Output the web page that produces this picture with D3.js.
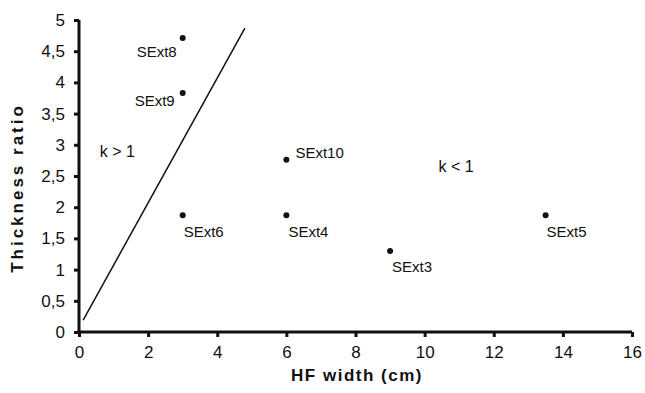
<!DOCTYPE html>
<html><head><meta charset="utf-8">
<script src="https://cdn.jsdelivr.net/npm/d3@7"></script>
<style>
body{margin:0;background:#fff;}
text{font-family:"Liberation Sans",Arial,sans-serif;fill:#111;}
</style></head>
<body><svg id="c" width="645" height="393"></svg>
<script>
const names = ["SExt8","SExt9","SExt10","SExt6","SExt4","SExt3","SExt5"];
const hfWidth = [3, 3, 6, 3, 6, 9, 13.5];
const thickRatio = [4.71, 3.83, 2.76, 1.87, 1.87, 1.30, 1.87];
const xTicks = [0,2,4,6,8,10,12,14,16];
const yTicks = [0,0.5,1,1.5,2,2.5,3,3.5,4,4.5,5];
const lineX = [0.12, 4.8];
const lineY = [0.19, 4.87];
const regionLabels = ["k > 1", "k < 1"];
const regionX = [0.6, 10.4];
const regionY = [2.8, 2.56];

// label placement (styles only)
const place = {
  SExt8:{a:"end",dx:-6,dy:19}, SExt9:{a:"end",dx:-8,dy:13},
  SExt10:{a:"start",dx:9,dy:-2}, SExt6:{a:"start",dx:1,dy:22},
  SExt4:{a:"start",dx:2,dy:22}, SExt3:{a:"start",dx:2,dy:21},
  SExt5:{a:"start",dx:1,dy:22}
};

const svg = d3.select("#c");
const x = d3.scaleLinear().domain([0,16]).range([79,632]);
const y = d3.scaleLinear().domain([0,5]).range([332,20]);
const fmt = d => String(d).replace(".", ",");

const xa = svg.append("g").attr("transform","translate(0,332)")
  .call(d3.axisBottom(x).tickValues(xTicks).tickSize(5).tickSizeOuter(0).tickPadding(9).tickFormat(fmt));
const ya = svg.append("g").attr("transform","translate(79,0)")
  .call(d3.axisLeft(y).tickValues(yTicks).tickSize(5).tickSizeOuter(0).tickPadding(9).tickFormat(fmt));
[xa,ya].forEach(a=>{
  a.select(".domain").attr("stroke","#111").attr("stroke-width",3);
  a.selectAll(".tick line").attr("stroke","#111").attr("stroke-width",3);
  a.selectAll(".tick text").attr("font-size",17).attr("fill","#111")
   .style("font-family","'Liberation Sans',Arial,sans-serif");
});
xa.select(".domain").attr("d",`M${x(0)-1.5},0H${x(16)}`);
ya.select(".domain").attr("d",`M0,${y(5)}V${y(0)+1.5}`);

svg.append("line").attr("x1",x(lineX[0])).attr("y1",y(lineY[0]))
  .attr("x2",x(lineX[1])).attr("y2",y(lineY[1]))
  .attr("stroke","#111").attr("stroke-width",1.5);

names.forEach((n,i)=>{
  const cx = x(hfWidth[i]), cy = y(thickRatio[i]);
  svg.append("circle").attr("cx",cx).attr("cy",cy).attr("r",3).attr("fill","#111");
  const p = place[n];
  svg.append("text").attr("x",cx+p.dx).attr("y",cy+p.dy).attr("text-anchor",p.a)
    .attr("font-size",15).text(n);
});

regionLabels.forEach((t,i)=>{
  svg.append("text").attr("x",x(regionX[i])).attr("y",y(regionY[i]))
    .attr("font-size",16).text(t);
});

svg.append("text").attr("x",357).attr("y",381).attr("text-anchor","middle")
  .attr("font-size",17).attr("font-weight","bold").attr("letter-spacing",1.5).text("HF width (cm)");
svg.append("text").attr("transform","translate(23,188) rotate(-90)").attr("text-anchor","middle")
  .attr("font-size",17).attr("font-weight","bold").attr("letter-spacing",3).text("Thickness ratio");
</script></body></html>
